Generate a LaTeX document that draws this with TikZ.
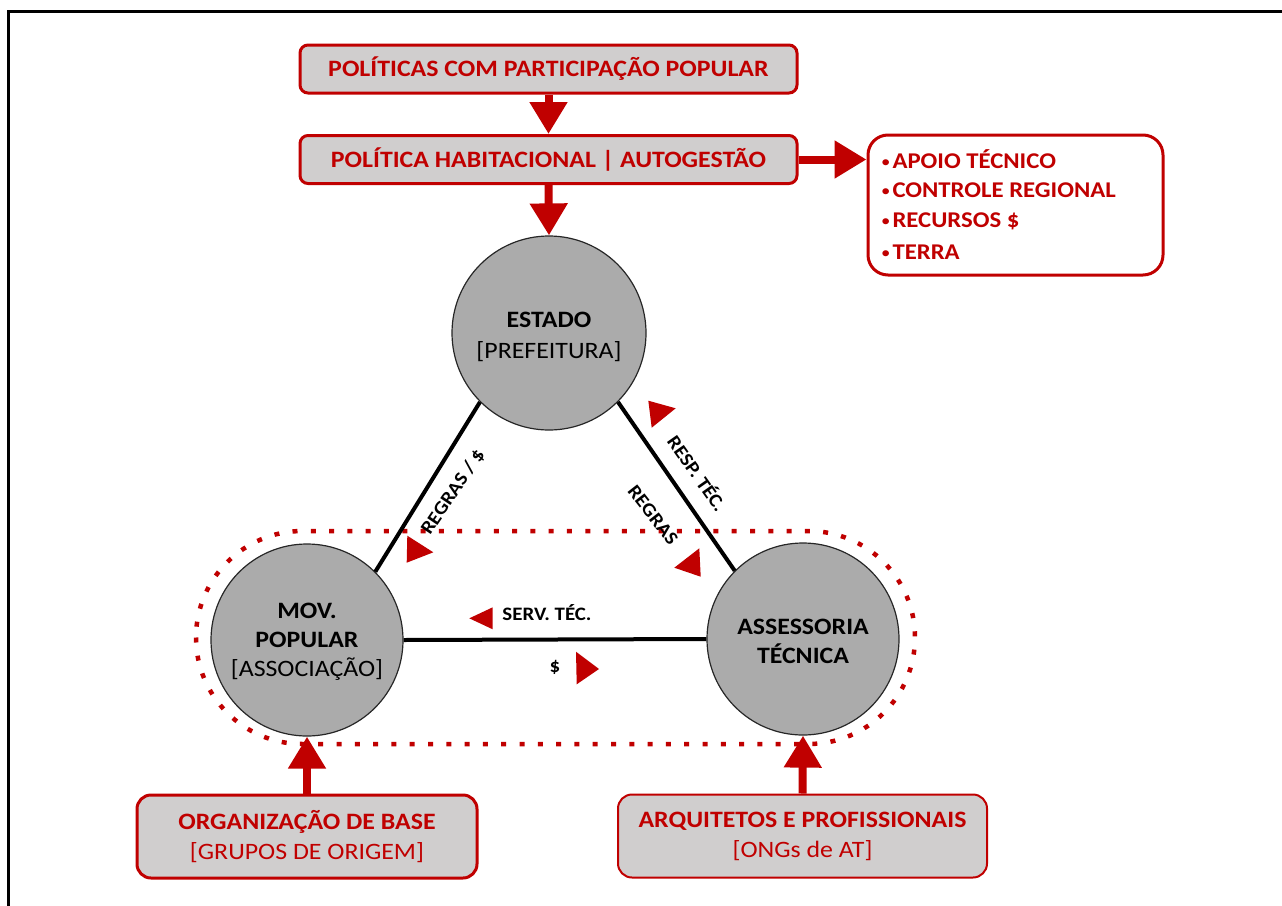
\documentclass[tikz,border=0pt]{standalone}
\usepackage{fontspec}
\setmainfont[FakeStretch=1.1]{Carlito}
\usetikzlibrary{arrows.meta}
\definecolor{myred}{HTML}{C00000}
\definecolor{boxgray}{HTML}{D0CECE}
\definecolor{circgray}{HTML}{ABABAB}
\newcommand{\smbul}{{\mdseries\fontsize{17}{17}\selectfont\raisebox{1pt}{•}}\kern2pt}
\begin{document}
\begin{tikzpicture}[x=1pt,y=-1pt,
  topbox/.style={draw=myred,line width=3pt,fill=boxgray,rounded corners=8pt,
    minimum width=497pt,minimum height=48pt,inner sep=0pt,text=myred,
    font=\fontsize{23.5}{28}\selectfont\bfseries},
  basebox/.style={draw=myred,line width=3pt,fill=boxgray,rounded corners=14pt,
    minimum height=83pt,inner sep=0pt,text=myred,align=center,
    font=\fontsize{23.5}{30}\selectfont},
  listbox/.style={draw=myred,line width=3pt,fill=white,rounded corners=20pt,
    minimum width=295pt,minimum height=140pt,inner sep=0pt},
  circ/.style={circle,draw=black!85,line width=1.2pt,fill=circgray,inner sep=0pt},
  circtext/.style={align=center,inner sep=0pt,font=\fontsize{23.5}{29}\selectfont},
  bigarrow/.style={draw=myred,line width=8pt,-{Triangle[width=36pt,length=32pt]}},
  link/.style={draw=black,line width=4pt},
  elabel/.style={font=\fontsize{19}{21}\selectfont\bfseries,inner sep=0pt},
  listitem/.style={anchor=west,text=myred,inner sep=0pt,font=\fontsize{22.5}{27}\selectfont\bfseries},
  dots/.style={draw=myred,line width=4.5pt,dash pattern=on 5pt off 13.3pt}
]
\useasboundingbox (0,0) rectangle (1282,905);
\fill[white] (0,0) rectangle (1282,905);
% frame
\draw[line width=3pt] (8,920) -- (8,11) -- (1300,11);

% dotted stadium
\draw[dots,rounded corners=106.5pt] (196,531) rectangle (915,744);

% boxes
\node[topbox] (pol) at (548.5,69) {POLÍTICAS COM PARTICIPAÇÃO POPULAR};
\node[topbox] (hab) at (548.5,159.5) {POLÍTICA HABITACIONAL | AUTOGESTÃO};
\node[listbox] (list) at (1015.5,205) {};
\node[listitem] (i1) at (881,159) {\smbul APOIO TÉCNICO};
\node[listitem] (i2) at (881,190) {\smbul CONTROLE REGIONAL};
\node[listitem] (i3) at (881,221) {\smbul RECURSOS \$};
\node[listitem] (i4) at (881,252) {\smbul TERRA};

% circles
\node[circ,minimum size=194pt] (est) at (549,333) {};
\node[circtext] (estT) at (549,337) {\textbf{ESTADO}\\[2pt]{[}PREFEITURA{]}};
\node[circ,minimum size=192pt] (mov) at (307,640) {};
\node[circtext] (movT) at (307,641.5) {\textbf{MOV.}\\\textbf{POPULAR}\\{[}ASSOCIAÇÃO{]}};
\node[circ,minimum size=192pt] (ass) at (803,639) {};
\node[circtext] (assT) at (803,641) {\textbf{ASSESSORIA}\\\textbf{TÉCNICA}};

% base boxes
\node[basebox,minimum width=340pt] (org) at (307,836.5)
  {\textbf{ORGANIZAÇÃO DE BASE}\\{[}GRUPOS DE ORIGEM{]}};
\node[basebox,minimum width=369pt,line width=2pt] (arq) at (802.5,836)
  {\textbf{ARQUITETOS E PROFISSIONAIS}\\{[}ONGs de AT{]}};

% big arrows
\draw[bigarrow] (pol.south) -- (hab.north);
\draw[bigarrow] (hab.south) -- (est.north);
\draw[bigarrow] (hab.east) -- (hab.east -| list.west);
\draw[bigarrow] (org.north) -- (mov.south);
\draw[bigarrow] (arq.north) -- (ass.south);

% triangle links
\draw[link] (est.225) -- (mov.45);
\draw[link] (est.315) -- (ass.135);
\draw[link] (mov.east) -- (ass.west);

% edge labels
\node[elabel,rotate=56] (l1) at (453,492) {REGRAS / \$};
\node[elabel,rotate=-52] (l2) at (653,515) {REGRAS};
\node[elabel,rotate=-55] (l3) at (698,473) {RESP. TÉC.};
\node[elabel] (l4) at (547,613) {SERV. TÉC.};
\node[elabel] (l5) at (555,667) {\$};

% small direction triangles
\fill[myred] (648.3,400.7) -- (651.7,427.7) -- (675.7,408.3) -- cycle;
\fill[myred] (407.3,535.7) -- (406.7,562.7) -- (433.3,552.3) -- cycle;
\fill[myred] (699.3,548.3) -- (700.7,576.7) -- (674.3,567.7) -- cycle;
\fill[myred] (469.3,618.3) -- (492.7,607.3) -- (492.7,629.3) -- cycle;
\fill[myred] (576,651.7) -- (576.7,684.3) -- (599,669) -- cycle;
\end{tikzpicture}
\end{document}
